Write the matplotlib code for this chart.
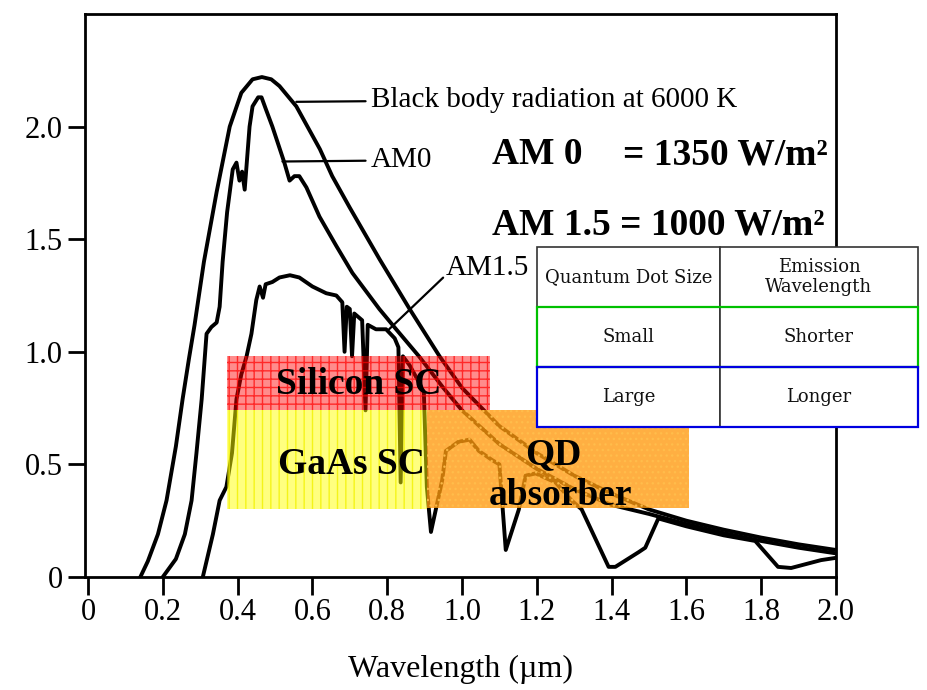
import numpy as np
import matplotlib
matplotlib.use("Agg")
import matplotlib.pyplot as plt
from matplotlib.patches import Rectangle

# spectral irradiance curves (wavelength in um)
bb_wl = [0.14, 0.16, 0.187, 0.21, 0.235, 0.253, 0.27, 0.285, 0.31, 0.344, 0.379, 0.41,
         0.44, 0.465, 0.49, 0.512, 0.557, 0.62, 0.653, 0.70, 0.78, 0.86, 0.94, 1.0,
         1.1, 1.2, 1.3, 1.4, 1.5, 1.6, 1.7, 1.8, 1.9, 2.0]
bb_val = [0.0, 0.07, 0.19, 0.34, 0.58, 0.79, 0.97, 1.12, 1.40, 1.71, 2.0, 2.15,
          2.21, 2.22, 2.21, 2.18, 2.09, 1.90, 1.78, 1.64, 1.41, 1.19, 0.98, 0.84,
          0.67, 0.55, 0.45, 0.37, 0.30, 0.25, 0.21, 0.175, 0.145, 0.12]

am0_wl = [0.20, 0.235, 0.259, 0.277, 0.29, 0.304, 0.317, 0.33, 0.344, 0.352, 0.36,
          0.372, 0.387, 0.397, 0.405, 0.412, 0.419, 0.432, 0.44, 0.455, 0.464, 0.475,
          0.493, 0.525, 0.539, 0.552, 0.565, 0.584, 0.619, 0.664, 0.707, 0.779, 0.824,
          0.885, 0.95, 1.0, 1.1, 1.2, 1.3, 1.4, 1.5, 1.6, 1.7, 1.8, 1.9, 2.0]
am0_val = [0.0, 0.08, 0.19, 0.34, 0.55, 0.79, 1.08, 1.11, 1.13, 1.20, 1.40,
           1.62, 1.81, 1.84, 1.76, 1.80, 1.72, 2.0, 2.09, 2.13, 2.13, 2.08,
           2.0, 1.84, 1.76, 1.78, 1.78, 1.73, 1.60, 1.47, 1.35, 1.19, 1.10,
           0.98, 0.84, 0.74, 0.59, 0.48, 0.39, 0.32, 0.28, 0.235, 0.195, 0.16, 0.13, 0.105]

am15_wl = [0.307, 0.334, 0.352, 0.37, 0.385, 0.397, 0.41, 0.424, 0.437, 0.45, 0.459,
           0.468, 0.475, 0.493, 0.512, 0.54, 0.565, 0.60, 0.637, 0.664, 0.68, 0.686,
           0.692, 0.70, 0.706, 0.712, 0.733, 0.742, 0.748, 0.77, 0.797, 0.82, 0.83,
           0.836, 0.842, 0.86, 0.88, 0.898, 0.906, 0.917, 0.947, 0.957, 0.99, 1.02,
           1.045, 1.08, 1.10, 1.117, 1.152, 1.17, 1.197, 1.25, 1.293, 1.32, 1.392,
           1.41, 1.472, 1.49, 1.525, 1.6, 1.7, 1.784, 1.845, 1.88, 1.96, 2.0]
am15_val = [0.0, 0.19, 0.34, 0.40, 0.55, 0.79, 0.90, 0.98, 1.08, 1.23, 1.29,
            1.24, 1.30, 1.31, 1.33, 1.34, 1.33, 1.29, 1.26, 1.25, 1.22, 1.0,
            1.20, 1.19, 0.98, 1.17, 1.14, 0.74, 1.12, 1.10, 1.10, 1.06, 1.02,
            0.42, 0.98, 0.94, 0.88, 0.82, 0.40, 0.20, 0.43, 0.56, 0.60, 0.61,
            0.56, 0.52, 0.50, 0.12, 0.30, 0.45, 0.46, 0.42, 0.34, 0.30, 0.045,
            0.045, 0.11, 0.13, 0.26, 0.225, 0.185, 0.16, 0.045, 0.04, 0.075, 0.085]

# absorption bands (wavelength range, irradiance range)
si_band = [(0.373, 1.076), (0.742, 0.982)]
gaas_band = [(0.373, 0.907), (0.302, 0.742)]
qd_band = [(0.907, 1.607), (0.307, 0.742)]

x_ticks = [0, 0.2, 0.4, 0.6, 0.8, 1.0, 1.2, 1.4, 1.6, 1.8, 2.0]
x_ticklabels = ['0', '0.2', '0.4', '0.6', '0.8', '1.0', '1.2', '1.4', '1.6', '1.8', '2.0']
y_ticks = [0, 0.5, 1.0, 1.5, 2.0]
y_ticklabels = ['0', '0.5', '1.0', '1.5', '2.0']

table_rows = [['Quantum Dot Size', 'Emission\nWavelength'],
              ['Small', 'Shorter'],
              ['Large', 'Longer']]

serif = 'Liberation Serif'

fig = plt.figure(figsize=(9.28, 6.9), dpi=100)
ax = fig.add_axes([85 / 928, 1 - 577 / 690, 751 / 928, 563 / 690])

for wl, val in [(bb_wl, bb_val), (am0_wl, am0_val), (am15_wl, am15_val)]:
    ax.plot(wl, val, color='black', lw=2.8, solid_joinstyle='round', zorder=2)

ax.set_xlim(-0.008, 2.0)
ax.set_ylim(0, 2.5)
ax.set_xticks(x_ticks)
ax.set_xticklabels(x_ticklabels, fontfamily=serif, fontsize=22)
ax.set_yticks(y_ticks)
ax.set_yticklabels(y_ticklabels, fontfamily=serif, fontsize=22)
ax.tick_params(axis='x', direction='out', length=13, width=2, pad=2)
ax.tick_params(axis='y', direction='out', length=12, width=2, pad=4)
for s in ax.spines.values():
    s.set_linewidth(2)
ax.set_xlabel('Wavelength (\u00b5m)', fontfamily=serif, fontsize=23, labelpad=20)

# coloured bands, drawn over the curves
(x0, x1), (y0, y1) = si_band
ax.add_patch(Rectangle((x0, y0), x1 - x0, y1 - y0, facecolor=(1, 0, 0, 0.45),
                       edgecolor=(1, 0, 0, 0.7), hatch='++', lw=0, zorder=3))
(x0, x1), (y0, y1) = gaas_band
ax.add_patch(Rectangle((x0, y0), x1 - x0, y1 - y0, facecolor=(1, 1, 0, 0.5),
                       edgecolor=(0.95, 0.95, 0, 0.8), hatch='||', lw=0, zorder=3))
(x0, x1), (y0, y1) = qd_band
ax.add_patch(Rectangle((x0, y0), x1 - x0, y1 - y0, facecolor=(1, 0.6, 0.05, 0.78),
                       edgecolor=(1, 0.75, 0.3, 0.8), hatch='...', lw=0, zorder=3))

# curve labels with leader lines
ax.annotate('Black body radiation at 6000 K', xy=(0.557, 2.11), xytext=(0.757, 2.12),
            fontfamily=serif, fontsize=21, ha='left', va='center',
            arrowprops=dict(arrowstyle='-', lw=1.6, color='black', shrinkA=2, shrinkB=0))
ax.annotate('AM0', xy=(0.52, 1.845), xytext=(0.757, 1.85),
            fontfamily=serif, fontsize=21, ha='left', va='center',
            arrowprops=dict(arrowstyle='-', lw=1.6, color='black', shrinkA=2, shrinkB=0))
ax.annotate('AM1.5', xy=(0.805, 1.10), xytext=(0.957, 1.37),
            fontfamily=serif, fontsize=21, ha='left', va='center',
            arrowprops=dict(arrowstyle='-', lw=1.6, color='black', shrinkA=0, shrinkB=0,
                            relpos=(0, 0.25)))

bold = dict(fontfamily=serif, fontsize=27, fontweight='bold', zorder=5)
ax.text(1.08, 1.876, 'AM 0', ha='left', va='center', **bold)
ax.text(1.979, 1.876, '= 1350 W/m\u00b2', ha='right', va='center', **bold)
ax.text(1.08, 1.564, 'AM 1.5 = 1000 W/m\u00b2', ha='left', va='center', **bold)
ax.text(0.723, 0.853, 'Silicon SC', ha='center', va='center', **bold)
ax.text(0.704, 0.498, 'GaAs SC', ha='center', va='center', **bold)
ax.text(1.245, 0.542, 'QD', ha='center', va='center', **bold)
ax.text(1.264, 0.364, 'absorber', ha='center', va='center', **bold)

# quantum dot table on top
tax = fig.add_axes([537 / 928, 1 - 427 / 690, 381 / 928, 180 / 690], zorder=10)
tax.axis('off')
tbl = tax.table(cellText=table_rows, colWidths=[0.48, 0.52], bbox=[0, 0, 1, 1],
                cellLoc='center')
tbl.auto_set_font_size(False)
tbl.set_fontsize(13)
for (r, c), cell in tbl.get_celld().items():
    cell.set_edgecolor('#333333')
    cell.set_linewidth(1.2)
    cell.set_facecolor('white')
    cell.get_text().set_fontfamily('DejaVu Serif')
    cell.get_text().set_color('#111111')
tax.add_patch(Rectangle((0, 1 / 3), 1, 1 / 3, fill=False, edgecolor='#00c000', lw=1.6,
                        transform=tax.transAxes, zorder=20, clip_on=False))
tax.add_patch(Rectangle((0, 0), 1, 1 / 3, fill=False, edgecolor='#0000e0', lw=1.6,
                        transform=tax.transAxes, zorder=20, clip_on=False))

fig.savefig('out.png', dpi=100)
